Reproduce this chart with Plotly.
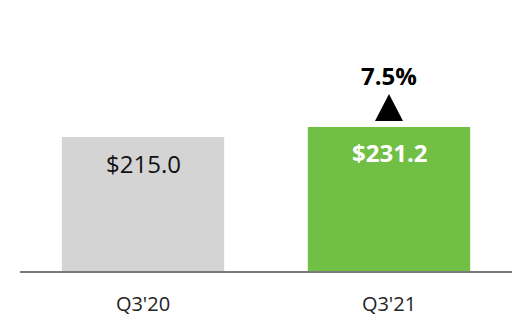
import plotly.graph_objects as go

categories = ["Q3'20", "Q3'21"]
values = [215.0, 231.2]
value_labels = ["$215.0", "$231.2"]
bar_colors = ["#d4d4d4", "#71bf44"]
label_colors = ["#111111", "#ffffff"]
label_weights = ["normal", "bold"]
growth_label = "7.5%"

fig = go.Figure()
fig.add_trace(go.Bar(x=categories, y=values, marker=dict(color=bar_colors, line=dict(width=0)),
                     width=0.66, hoverinfo="skip"))

for c, v, t, col, w in zip(categories, values, value_labels, label_colors, label_weights):
    fig.add_annotation(x=c, y=v, text=t, showarrow=False, yanchor="middle", yshift=-26,
                       font=dict(family="Open Sans", size=24, color=col, weight=w))

# up-arrow triangle, sized in pixels, anchored on top of the second bar
fig.add_shape(type="path", xref="x", yref="y", xsizemode="pixel", ysizemode="pixel",
              xanchor=1, yanchor=values[1],
              path="M -14 6 L 14 6 L 0 33 Z", fillcolor="#000000", line=dict(width=0))

fig.add_annotation(x=categories[1], y=values[1], text=growth_label, showarrow=False, yanchor="middle",
                   yshift=51, font=dict(family="Open Sans", size=24, color="#000000", weight="bold"))

fig.update_layout(
    width=532, height=332, margin=dict(l=20, r=20, t=0, b=61),
    paper_bgcolor="white", plot_bgcolor="white", showlegend=False,
    xaxis=dict(range=[-0.5, 1.5], showline=True, linecolor="#7a7a7a", linewidth=2,
               ticks="", ticklabelstandoff=14,
               tickfont=dict(family="Open Sans", size=20, color="#222222"),
               showgrid=False, zeroline=False),
    yaxis=dict(range=[0, 435], visible=False, showgrid=False, zeroline=False),
)

fig.write_html("out.html")
